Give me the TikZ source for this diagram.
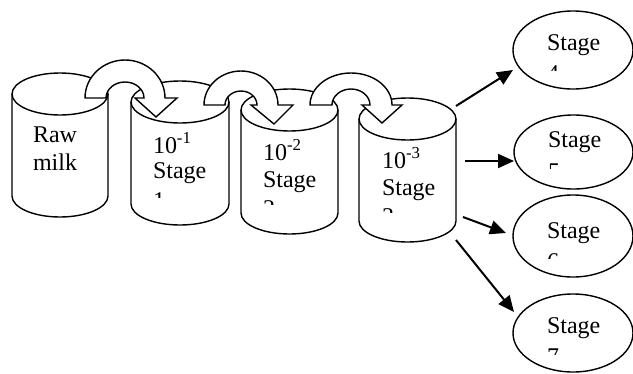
\documentclass[tikz,border=0pt]{standalone}
\usepackage{fontspec}
\setmainfont{Liberation Serif}
\usetikzlibrary{arrows.meta,shapes.geometric}
\tikzset{
  cyl/.style={draw, fill=white, line width=1.4pt},
  band/.style={draw, fill=white, line width=1.4pt, line join=miter},
  txt/.style={anchor=base west, inner sep=0pt, outer sep=0pt, font=\fontsize{24}{28}\selectfont},
  stageell/.style={draw, ellipse, line width=1.4pt, inner sep=0pt},
  conn/.style={line width=2pt, -{Triangle[length=16pt,width=14pt]}}
}
\newcommand\mycyl[5]{% xl, xr, ytop, ybottom, ry
  \draw[cyl] (#1,#3) -- (#1,#4) arc[start angle=180, end angle=0, x radius={(#2-#1)/2}, y radius=#5] -- (#2,#3);
  \draw[cyl] ({(#1+#2)/2},#3) ellipse[x radius={(#2-#1)/2}, y radius=#5];
}
\begin{document}
\begin{tikzpicture}[x=1pt,y=-1pt]
\useasboundingbox (0,0) rectangle (633,373);

% cylinders
\mycyl{12}{108}{94}{196}{21}
\mycyl{131}{229}{102}{204}{21}
\mycyl{241}{338}{110}{213}{21}
\mycyl{359}{456}{119}{221}{21}

% cylinder texts
\node[txt] (raw) at (33,142) {Raw};
\node[txt] (milk) at (33,170) {milk};

\node[txt] (p1) at (153,153) {10\textsuperscript{-1}};
\node[txt] (s1) at (153,178) {Stage};
\begin{scope}
  \clip (140,180) rectangle (220,197);
  \node[txt] (d1) at (153,208) {1};
\end{scope}

\node[txt] (p2) at (263,160) {10\textsuperscript{-2}};
\node[txt] (s2) at (263,187) {Stage};
\begin{scope}
  \clip (250,189) rectangle (330,204);
  \node[txt] (d2) at (263,216) {2};
\end{scope}

\node[txt] (p3) at (382,168) {10\textsuperscript{-3}};
\node[txt] (s3) at (382,195) {Stage};
\begin{scope}
  \clip (370,197) rectangle (450,212);
  \node[txt] (d3) at (382,224) {3};
\end{scope}

% curved hollow arrows
\draw[band] (85,98) arc[start angle=180, end angle=360, x radius=40, y radius=38]
  -- (177,98) -- (156,117) -- (135,98) -- (144,98)
  arc[start angle=0, end angle=-180, x radius=19, y radius=16] -- cycle;
\draw[band] (204,105) arc[start angle=180, end angle=360, x radius=37, y radius=34]
  -- (293,105) -- (274,124) -- (251,105) -- (257,105)
  arc[start angle=0, end angle=-180, x radius=16, y radius=14] -- cycle;
\draw[band] (310,105) arc[start angle=180, end angle=360, x radius=41, y radius=32]
  -- (402,105) -- (382,123) -- (362,105) -- (370,105)
  arc[start angle=0, end angle=-180, x radius=19, y radius=16] -- cycle;

% stage ellipses
\node[stageell, minimum width=120, minimum height=78] (e4) at (573,50) {};
\node[stageell, minimum width=119, minimum height=74] (e5) at (573.5,152) {};
\node[stageell, minimum width=120, minimum height=82] (e6) at (573,236) {};
\node[stageell, minimum width=120, minimum height=78] (e7) at (573,333) {};

\node[txt] (t4) at (547,50) {Stage};
\begin{scope}
  \clip (535,52) rectangle (610,70);
  \node[txt] (d4) at (547,81) {4};
\end{scope}
\node[txt] (t5) at (548,147) {Stage};
\begin{scope}
  \clip (535,149) rectangle (610,168);
  \node[txt] (d5) at (548,179) {5};
\end{scope}
\node[txt] (t6) at (547,238) {Stage};
\begin{scope}
  \clip (535,240) rectangle (610,258);
  \node[txt] (d6) at (547,269) {6};
\end{scope}
\node[txt] (t7) at (547,333) {Stage};
\begin{scope}
  \clip (535,335) rectangle (610,354);
  \node[txt] (d7) at (547,364) {7};
\end{scope}

% straight arrows
\coordinate (a1s) at (456,106); \coordinate (a1e) at (513,70);
\coordinate (a2s) at (465,161); \coordinate (a2e) at (514,161);
\coordinate (a3s) at (463,217); \coordinate (a3e) at (506,233);
\coordinate (a4s) at (456,240); \coordinate (a4e) at (514,312);
\draw[conn] (a1s) -- (a1e);
\draw[conn] (a2s) -- (a2e);
\draw[conn] (a3s) -- (a3e);
\draw[conn] (a4s) -- (a4e);
\end{tikzpicture}
\end{document}
